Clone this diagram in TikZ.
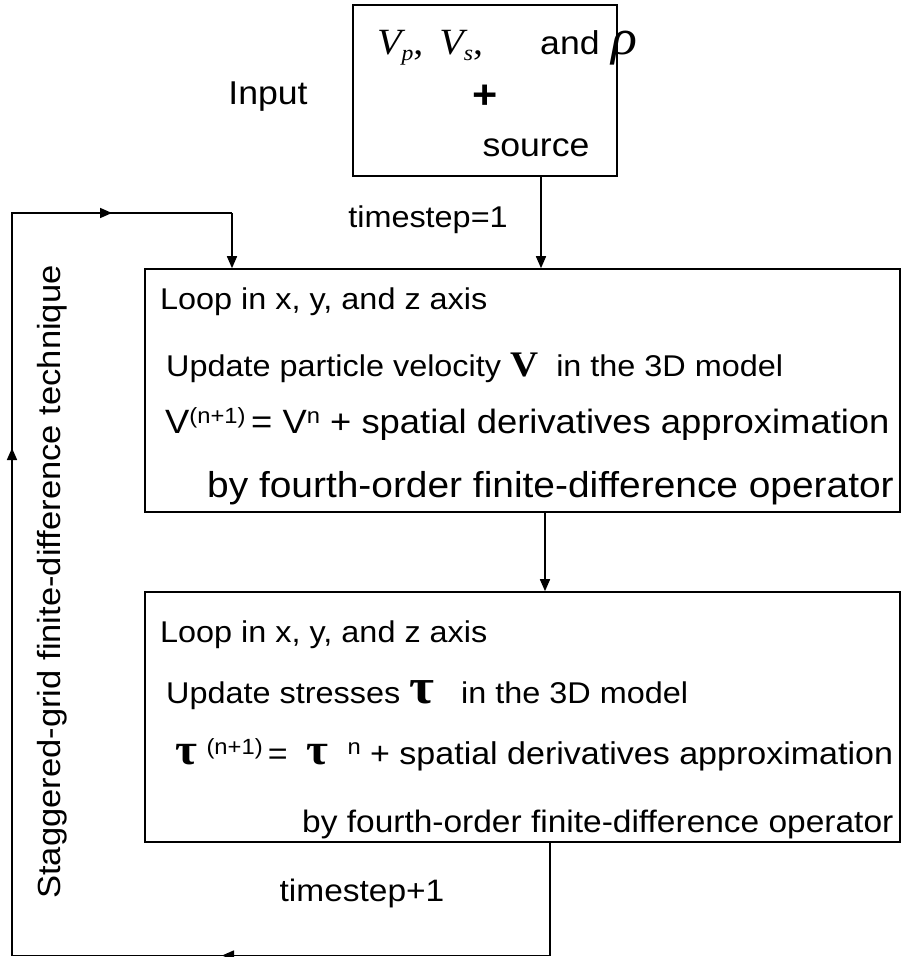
\documentclass[tikz,border=0pt]{standalone}
\usepackage{fontspec}
\setmainfont{Liberation Sans}[FakeStretch=1.08]
\newfontfamily\tms{Liberation Serif}[FakeStretch=1.08]
\usetikzlibrary{arrows.meta}

\newcommand{\sz}[1]{\fontsize{#1}{#1}\selectfont}
\newcommand{\upper}[1]{\raisebox{10pt}{\sz{22}#1}}

\tikzset{
  wire/.style={line width=1.6pt, line join=miter},
  arr/.style={wire, -{Triangle[length=12pt,width=10pt]}},
  box/.style={draw, line width=1.6pt, inner sep=0pt},
  txt/.style={inner sep=0pt, anchor=base west, font=\sz{30}},
}

\begin{document}
\begin{tikzpicture}[x=1pt,y=-1pt]
\useasboundingbox (0,0) rectangle (915,957);

% boxes
\node[box, minimum width=264pt, minimum height=171pt] (inbox) at (485,90.5) {};
\node[box, minimum width=755pt, minimum height=243pt] (vbox) at (522.5,390.5) {};
\node[box, minimum width=755pt, minimum height=250pt] (tbox) at (522.5,717) {};

% input box text
\node[txt] (in1) at (377,55) {\tms\sz{37}\itshape V\lower6pt\hbox{\sz{22}p}\upshape,\hspace{16pt}\itshape V\lower6pt\hbox{\sz{22}s}\upshape,};
\node[txt, font=\sz{33}] (in1b) at (540,55) {and\hspace{12pt}{\tms\itshape\sz{50}ρ}};
\node[inner sep=0pt, font=\sz{40}\bfseries] (in2) at (485,97) {+};
\node[txt, anchor=base, font=\sz{33}] (in3) at (536,157) {source};
\node[inner sep=0pt, font=\sz{33}] (inlab) at (268,97) {Input};

% velocity box text
\node[txt] (v1) at (160,309) {Loop in x, y, and z axis};
\node[txt] (v2) at (166,376) {Update particle velocity {\tms\bfseries\sz{36}V}\ \ in the 3D model};
\node[txt, font=\sz{33.7}] (v3) at (165,433) {V\upper{(n+1)}\,= V\upper{n} + spatial derivatives approximation};
\node[txt, font=\sz{36}] (v4) at (207,497) {by fourth-order finite-difference operator};

% stress box text
\node[txt] (t1) at (160,642) {Loop in x, y, and z axis};
\node[txt] (t2) at (166,703) {Update stresses {\tms\bfseries\sz{50}τ}\ \ \ in the 3D model};
\node[txt, font=\sz{31.5}] (t3) at (175,764) {{\tms\bfseries\sz{44}τ}\ \upper{(n+1)}\,=\ \ {\tms\bfseries\sz{44}τ}\ \ \upper{n} + spatial derivatives approximation};
\node[txt, font=\sz{31}] (t4) at (302,832) {by fourth-order finite-difference operator};

% labels on the loop
\node[inner sep=0pt, font=\sz{30}] (ts1) at (428,220) {timestep=1};
\node[inner sep=0pt, font=\sz{31}] (ts2) at (362,893) {timestep+1};
\node[inner sep=0pt, font=\sz{32}, rotate=90] (side) at (52,582) {Staggered-grid finite-difference technique};

% connector coordinates
\coordinate (c1) at (541,0);
\coordinate (c2) at (545,0);
\coordinate (c3) at (232,0);
\coordinate (lbr) at (550,955.5);
\coordinate (ltl) at (12,213);

% main flow
\draw[arr] (inbox.south -| c1) -- (vbox.north -| c1);
\draw[arr] (vbox.south -| c2) -- (tbox.north -| c2);

% time loop
\draw[wire] (tbox.south -| lbr) -- (lbr) -- (lbr -| ltl) -- (ltl) -- (ltl -| c3);
\draw[arr] (ltl -| c3) -- (vbox.north -| c3);
\draw[arr] (ltl) -- (112,213);
\draw[arr] (lbr -| ltl) -- (12,448);
\draw[arr] (lbr) -- (222,955.5);
\end{tikzpicture}
\end{document}
